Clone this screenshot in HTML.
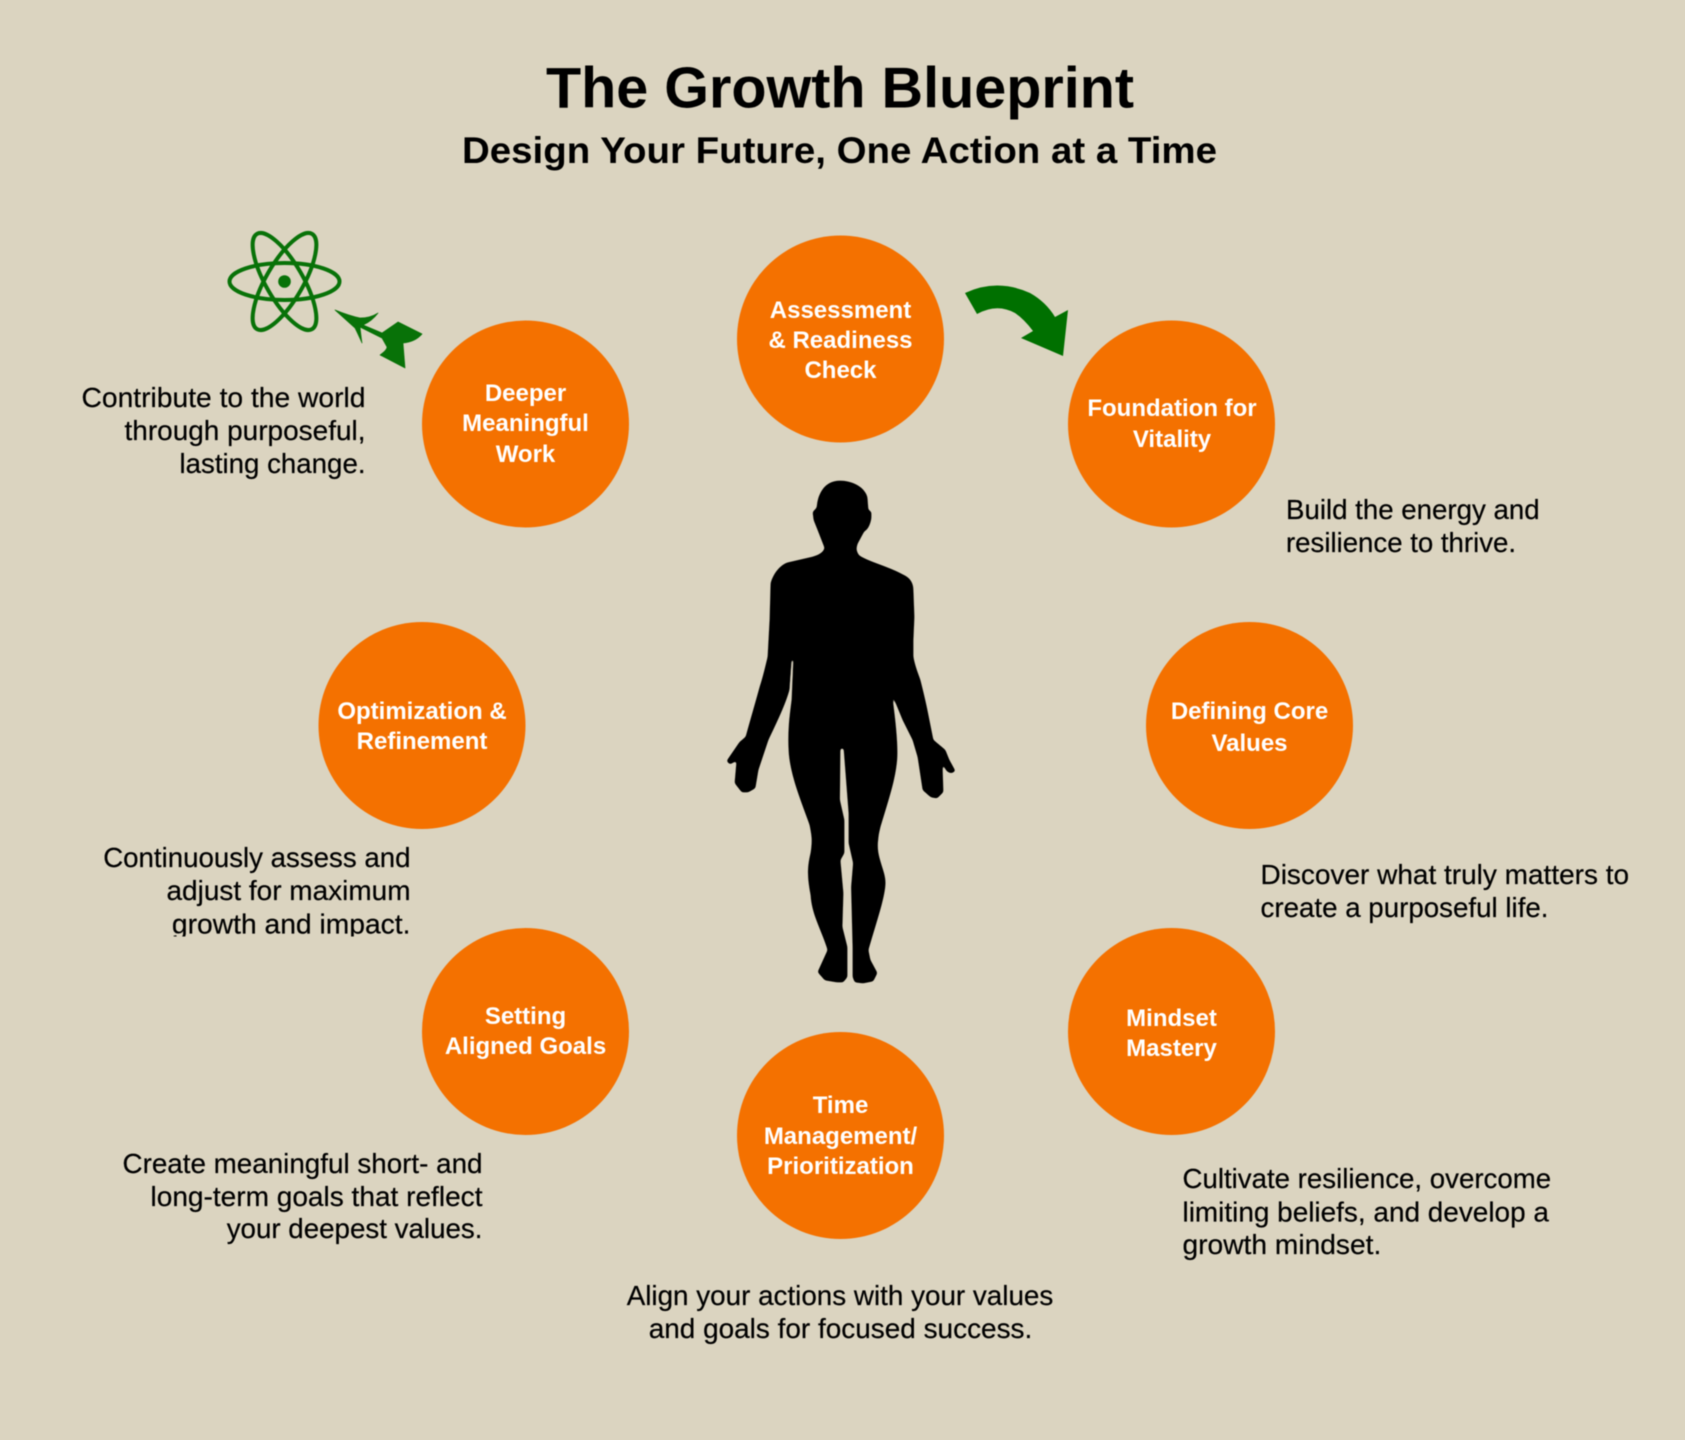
<!DOCTYPE html>
<html><head><meta charset="utf-8"><title>The Growth Blueprint</title>
<style>
html,body{margin:0;padding:0;background:#dbd4c0}
svg{display:block;filter:blur(.45px)}
text{font-family:"Liberation Sans",Arial,sans-serif}
.d{font-size:28px;fill:#000;stroke:#000;stroke-width:.2}
.c{font-size:24px;font-weight:bold;fill:#fff;text-anchor:middle}
.e{text-anchor:end}.m{text-anchor:middle}
</style></head><body>
<svg width="1685" height="1440" viewBox="0 0 1685 1440" xmlns="http://www.w3.org/2000/svg">
<defs>
<filter id="sm" x="-10%" y="-5%" width="120%" height="110%" color-interpolation-filters="sRGB">
<feGaussianBlur stdDeviation="1.2"/>
<feComponentTransfer><feFuncA type="linear" slope="6" intercept="-2.5"/></feComponentTransfer>
</filter>
</defs>
<rect width="1685" height="1440" fill="#dbd4c0"/>
<text x="840" y="107.5" class="m" font-size="57.5" font-weight="bold" fill="#000" textLength="588" lengthAdjust="spacingAndGlyphs">The Growth Blueprint</text>
<text x="839.5" y="163" class="m" font-size="37" font-weight="bold" fill="#000" textLength="755" lengthAdjust="spacingAndGlyphs">Design Your Future, One Action at a Time</text>

<g fill="#f47100">
<circle cx="840.5" cy="339" r="103.5"/>
<circle cx="1171.5" cy="424" r="103.5"/>
<circle cx="1249.5" cy="725.5" r="103.5"/>
<circle cx="1171.5" cy="1031.5" r="103.5"/>
<circle cx="840.5" cy="1135.5" r="103.5"/>
<circle cx="525.5" cy="1031.5" r="103.5"/>
<circle cx="422" cy="725.5" r="103.5"/>
<circle cx="525.5" cy="424" r="103.5"/>
</g>

<text class="c" x="840.5" y="318">Assessment</text><text class="c" x="840.5" y="348">&amp; Readiness</text><text class="c" x="840.5" y="378">Check</text>
<text class="c" x="1172" y="416">Foundation for</text><text class="c" x="1172" y="447">Vitality</text>
<text class="c" x="1249.5" y="719">Defining Core</text><text class="c" x="1249.5" y="751">Values</text>
<text class="c" x="1171.5" y="1026">Mindset</text><text class="c" x="1171.5" y="1056">Mastery</text>
<text class="c" x="840.5" y="1113">Time</text><text class="c" x="840.5" y="1144">Management/</text><text class="c" x="840.5" y="1174">Prioritization</text>
<text class="c" x="525.5" y="1024">Setting</text><text class="c" x="525.5" y="1054">Aligned Goals</text>
<text class="c" x="422" y="719">Optimization &amp;</text><text class="c" x="422" y="749">Refinement</text>
<text class="c" x="525.5" y="401">Deeper</text><text class="c" x="525.5" y="431">Meaningful</text><text class="c" x="525.5" y="462">Work</text>

<text class="d e" x="365.5" y="407" textLength="284" lengthAdjust="spacingAndGlyphs">Contribute to the world</text>
<text class="d e" x="365.5" y="440" textLength="241" lengthAdjust="spacingAndGlyphs">through purposeful,</text>
<text class="d e" x="365.5" y="473" textLength="186" lengthAdjust="spacingAndGlyphs">lasting change.</text>

<text class="d" x="1286" y="519" textLength="253.6" lengthAdjust="spacingAndGlyphs">Build the energy and</text>
<text class="d" x="1286" y="552" textLength="230" lengthAdjust="spacingAndGlyphs">resilience to thrive.</text>

<text class="d" x="1260.5" y="884" textLength="368.6" lengthAdjust="spacingAndGlyphs">Discover what truly matters to</text>
<text class="d" x="1260.5" y="917" textLength="288" lengthAdjust="spacingAndGlyphs">create a purposeful life.</text>

<text class="d" x="1182.5" y="1188" textLength="368.6" lengthAdjust="spacingAndGlyphs">Cultivate resilience, overcome</text>
<text class="d" x="1182.5" y="1221.5" textLength="366.4" lengthAdjust="spacingAndGlyphs">limiting beliefs, and develop a</text>
<text class="d" x="1182.5" y="1254" textLength="198.8" lengthAdjust="spacingAndGlyphs">growth mindset.</text>

<text class="d m" x="840" y="1305" textLength="426.6" lengthAdjust="spacingAndGlyphs">Align your actions with your values</text>
<text class="d m" x="840.5" y="1338" textLength="383.6" lengthAdjust="spacingAndGlyphs">and goals for focused success.</text>

<text class="d e" x="482.5" y="1173" textLength="360" lengthAdjust="spacingAndGlyphs">Create meaningful short- and</text>
<text class="d e" x="482.5" y="1206" textLength="332" lengthAdjust="spacingAndGlyphs">long-term goals that reflect</text>
<text class="d e" x="482.5" y="1238" textLength="255.8" lengthAdjust="spacingAndGlyphs">your deepest values.</text>

<text class="d e" x="410.5" y="867" textLength="307.3" lengthAdjust="spacingAndGlyphs">Continuously assess and</text>
<text class="d e" x="410.5" y="900" textLength="244" lengthAdjust="spacingAndGlyphs">adjust for maximum</text>
<text class="d e" x="410.5" y="933.5" textLength="238.6" lengthAdjust="spacingAndGlyphs">growth and impact.</text>
<rect x="165" y="936.5" width="250" height="10" fill="#dbd4c0"/>

<!-- atom -->
<g fill="none" stroke="#087208" stroke-width="4" transform="translate(284.5 281.5)">
<ellipse rx="55" ry="18.5"/>
<ellipse rx="55" ry="18.5" transform="rotate(60)"/>
<ellipse rx="55" ry="18.5" transform="rotate(-60)"/>
<circle r="6.3" fill="#087208" stroke="none"/>
</g>

<!-- small arrow -->
<path fill="#087208" stroke="#087208" stroke-width=".7" stroke-linejoin="round" d="M335,310 Q350,316 360,318 Q370,318 378,313 Q372,321 363,325 L382,333 L398,322 L422,334 Q415,342 403,343 L405,368 L380,355 Q387,350 387,347 L382,338 L360,327 Q361,336 362,343 Q358,334 355,328 Z"/>

<!-- big arrow -->
<path fill="#007000" d="M965,293 Q997,278 1030,293 Q1046,302 1055,317 L1068,310 L1063,356 L1021,338 L1033,331 Q1024,319 1015,313 Q997,303 977,314 Z"/>

<!-- silhouette -->
<path filter="url(#sm)" fill="#000" stroke="#000" stroke-width=".8" stroke-linejoin="round" d="M840,481 C852,481 864,487 867,497 L868,510 L871,512 L871,518 C870,525 867,530 864,531 L857,544 L856,549 C857,553 858,556 861,557 C868,561 875,563 880,565 C888,568 896,571 903,575 C910,578 913,583 913,590 L914,617 L913,640 L913,657 C915,668 918,674 920,680 C923,692 925,700 927,710 L933,740 L945,750 L949,760 L955,771 L951,773 L947,771 L942,762 L943,792 L937,798 L931,797 L923,790 L918,757 L913,740 L903,720 L894,698 L890,680 L888,660 L891,690 C893,705 897,730 897,753 C897,775 888,800 880,827 C877,838 877,848 878,853 C880,865 886,875 885,885 C884,900 875,925 868,950 L870,960 L877,973 L873,981 L863,983 L855,982 L853,977 L853,947 L851.5,887 L853.5,863 L849,843 L849,813 L844,748 L840,748 L839.5,800 L844,820 L844,853 L840,860 L843,893 L842,927 L847,947 L847,977 L843,982 L837,982 L825,980 L818,972 L828,950 C822,930 812,915 811,895 C807,875 808,865 811,853 C813,840 812,835 810,825 C803,805 790,775 789,750 C788,730 790,715 792,700 L794,658 L791,660 L789,690 C785,705 775,725 768,740 L758,770 L755,788 L748,792 L742,792 L735,783 L737,760 L730,764 L727,761 L740,742 L746,737 C750,722 756,702 760,687 C764,675 766,665 768,657 L770,620 L771,583 C774,573 780,566 787,563 L813,557 C820,555 824,552 825,548 L818,530 L814,520 L813,512 L817,508 C818,492 826,481 840,481 Z"/>
</svg>
</body></html>
